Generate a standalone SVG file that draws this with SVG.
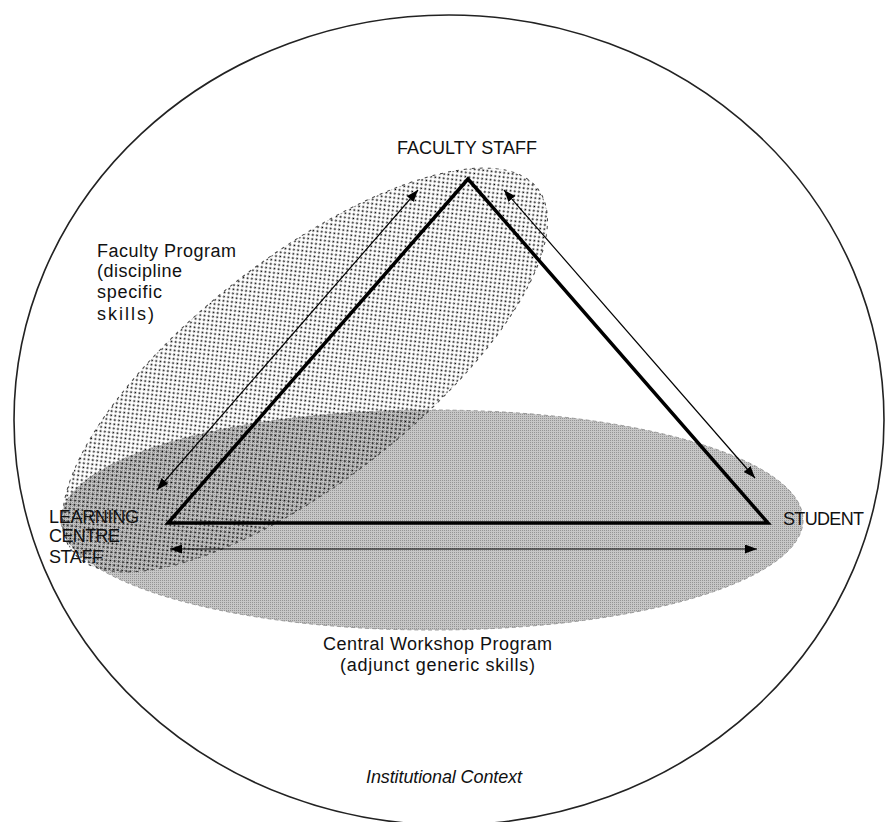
<svg xmlns="http://www.w3.org/2000/svg" width="885" height="822" viewBox="0 0 885 822">
<defs>
<pattern id="dots" width="6" height="6" patternUnits="userSpaceOnUse">
<rect x="0.5" y="0.5" width="1.7" height="1.7" fill="#000"/>
<rect x="3.5" y="3.5" width="1.7" height="1.7" fill="#000"/>
</pattern>
<pattern id="gray" width="2" height="2" patternUnits="userSpaceOnUse">
<rect width="2" height="2" fill="#c6c6c6"/>
<rect width="1" height="1" fill="#949494"/>
</pattern>
<marker id="ah" markerUnits="userSpaceOnUse" markerWidth="13" markerHeight="10" refX="12" refY="4.5" orient="auto-start-reverse">
<path d="M0,0 L12,4.5 L0,9 z" fill="#000"/>
</marker>
</defs>
<style>
text{font-family:"Liberation Sans",Arial,sans-serif;font-size:18px;fill:#111}
.it{font-style:italic}
.tri{stroke:#000;stroke-width:3.5;fill:none;stroke-linejoin:miter}
.arr{stroke:#000;stroke-width:1.2;fill:none;marker-start:url(#ah);marker-end:url(#ah)}
</style>
<rect width="885" height="822" fill="#fff"/>
<g id="institutional-context">
<ellipse cx="449" cy="420" rx="435" ry="405" fill="none" stroke="#222" stroke-width="1.6"/>
<text class="it" x="366" y="783" textLength="156">Institutional Context</text>
</g>
<g id="central-workshop-program">
<ellipse cx="432" cy="520" rx="371" ry="110" fill="url(#gray)" stroke="#999" stroke-width="1" stroke-dasharray="4 3"/>
<text x="323" y="650" textLength="229">Central Workshop Program</text>
<text x="340" y="671" textLength="195">(adjunct generic skills)</text>
</g>
<g id="faculty-program">
<ellipse cx="305" cy="370" rx="295" ry="112" transform="rotate(-38 305 370)" fill="url(#dots)" stroke="#444" stroke-width="1" stroke-dasharray="3 5"/>
<text x="97" y="257" textLength="139">Faculty Program</text>
<text x="97" y="277" textLength="85">(discipline</text>
<text x="97" y="298" textLength="65">specific</text>
<text x="97" y="320" textLength="57">skills)</text>
</g>
<g id="connectors">
<polygon class="tri" points="468,179 168,523 768,523"/>
<line class="arr" x1="157" y1="490" x2="418" y2="190"/>
<line class="arr" x1="504" y1="190" x2="755" y2="478"/>
<line class="arr" x1="170" y1="549" x2="757" y2="549"/>
</g>
<g id="faculty-staff">
<text x="397" y="154" textLength="140">FACULTY STAFF</text>
</g>
<g id="learning-centre-staff">
<text x="49" y="523" textLength="90">LEARNING</text>
<text x="49" y="542" textLength="71">CENTRE</text>
<text x="49" y="563" textLength="54">STAFF</text>
</g>
<g id="student">
<text x="783" y="525" textLength="81">STUDENT</text>
</g>
</svg>
